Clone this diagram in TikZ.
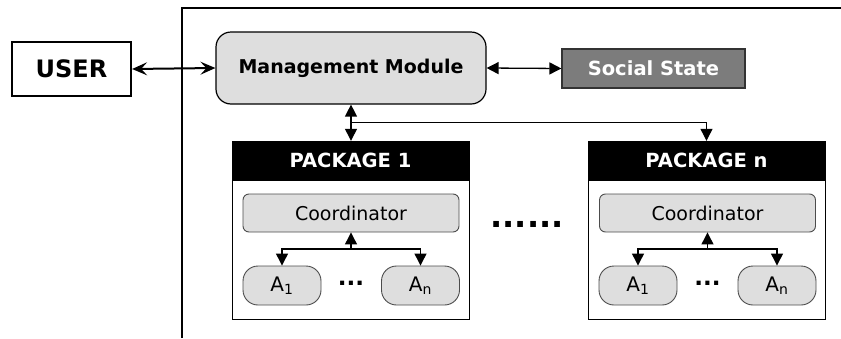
\documentclass[tikz,border=0pt]{standalone}
\usepackage{fontspec}
\setmainfont{DejaVu Sans}
\usetikzlibrary{arrows.meta,calc}
\definecolor{lightbox}{HTML}{DEDEDE}
\definecolor{socialgray}{HTML}{7C7C7C}
\tikzset{
  userbox/.style={draw, line width=2.2pt, minimum width=119pt, minimum height=54pt, inner sep=0pt, font=\fontsize{24}{28}\selectfont\bfseries},
  mmbox/.style={draw, line width=1.2pt, fill=lightbox, rounded corners=15pt, minimum width=270pt, minimum height=72pt, inner sep=0pt, font=\fontsize{19}{22}\selectfont\bfseries},
  ssbox/.style={draw=black!80, line width=1.2pt, fill=socialgray, text=white, minimum width=183pt, minimum height=39pt, inner sep=0pt, font=\fontsize{19.5}{22}\selectfont\bfseries},
  pkghead/.style={draw, fill=black, text=white, minimum width=237pt, minimum height=39pt, inner sep=0pt, font=\fontsize{19.5}{22}\selectfont\bfseries},
  pkgbody/.style={draw, line width=1pt},
  coordbox/.style={draw=black!70, line width=0.9pt, fill=lightbox, rounded corners=6pt, minimum width=216pt, minimum height=38pt, inner sep=0pt, font=\fontsize{19}{22}\selectfont},
  agent/.style={draw=black!70, line width=0.9pt, fill=lightbox, rounded corners=15pt, minimum width=78pt, minimum height=39pt, inner sep=0pt, font=\fontsize{20}{23}\selectfont},
  dotsl/.style={inner sep=0pt, font=\fontsize{23}{26}\selectfont\bfseries},
  bigdots/.style={inner sep=0pt, font=\fontsize{32}{36}\selectfont\bfseries},
  userarrow/.style={line width=2pt, {Stealth[length=15pt,width=13pt,inset=6pt]}-{Stealth[length=15pt,width=13pt,inset=6pt]}},
  tarrow/.style={line width=1.3pt, {Triangle[length=12pt,width=12pt]}-{Triangle[length=12pt,width=12pt]}},
  onearrow/.style={line width=1.2pt, -{Triangle[length=12pt,width=12pt]}},
}
\begin{document}
\begin{tikzpicture}[x=1pt,y=-1pt]
\useasboundingbox (0,0) rectangle (841,338);
% outer frame
\draw[line width=2.2pt] (182,338) -- (182,8) -- (841,8);
% top row
\node[userbox] (user) at (71.5,69) {USER};
\node[mmbox] (mm) at (351,68) {Management Module};
\node[ssbox] (ss) at (653.5,68.5) {Social State};
% package 1
\node[pkghead] (p1) at (350.5,160.5) {PACKAGE 1};
\draw[pkgbody] (232,141) rectangle (469,319);
\node[coordbox] (c1) at (351,213) {Coordinator};
\node[agent] (a11) at (282,285.5) {A\textsubscript{1}};
\node[agent] (a1n) at (420.5,285.5) {A\textsubscript{n}};
\node[dotsl] (d1) at (351,283) {...};
% package n
\node[pkghead] (pn) at (706.5,160.5) {PACKAGE n};
\draw[pkgbody] (588,141) rectangle (825,319);
\node[coordbox] (cn) at (707.5,213) {Coordinator};
\node[agent] (an1) at (638,285.5) {A\textsubscript{1}};
\node[agent] (ann) at (777,285.5) {A\textsubscript{n}};
\node[dotsl] (dn) at (707.5,283) {...};
% dots between packages
\node[bigdots] (mid) at (527,224) {......};
% connectors
\draw[userarrow] (user.east) -- (mm.west);
\draw[tarrow] (mm.east) -- (ss.west);
\draw[tarrow] (mm.south) -- (mm.south |- p1.north);
\coordinate (br) at ($(mm.south)!0.5!(mm.south |- p1.north)$);
\draw[onearrow] (br) -| (pn.north);
\coordinate (j1) at ($(c1.south)!0.5!(c1.south |- a11.north)$);
\draw[onearrow] (j1) -- (c1.south);
\draw[onearrow] (j1) -| (a11.north);
\draw[onearrow] (j1) -| (a1n.north);
\coordinate (jn) at ($(cn.south)!0.5!(cn.south |- an1.north)$);
\draw[onearrow] (jn) -- (cn.south);
\draw[onearrow] (jn) -| (an1.north);
\draw[onearrow] (jn) -| (ann.north);
\end{tikzpicture}
\end{document}
